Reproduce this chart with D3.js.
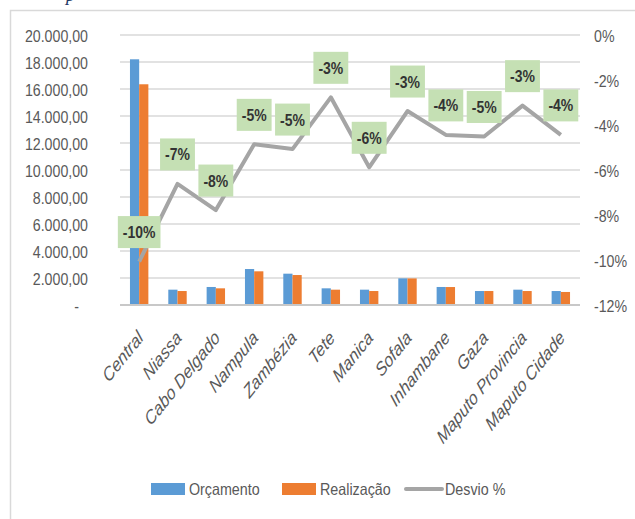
<!DOCTYPE html>
<html>
<head>
<meta charset="utf-8">
<script src="https://cdn.jsdelivr.net/npm/d3@7"></script>
<style>
  html, body { margin: 0; padding: 0; background: #fff; }
  svg { display: block; }
  text { font-family: "Liberation Sans", Arial, sans-serif; }
</style>
</head>
<body>
<svg id="chart" width="635" height="519"></svg>
<script>
// Budget vs. execution by province, with deviation percentage
const categories = ["Central", "Niassa", "Cabo Delgado", "Nampula", "Zambézia", "Tete",
  "Manica", "Sofala", "Inhambane", "Gaza", "Maputo Provincia", "Maputo Cidade"];
const orcamento  = [18200, 1135, 1335, 2665, 2320, 1235, 1135, 1975, 1335, 1035, 1135, 1035];
const realizacao = [16350, 1035, 1235, 2495, 2220, 1135, 1035, 1970, 1330, 1035, 1035, 965];
const desvio = [-0.1007, -0.0662, -0.0778, -0.0486, -0.0507, -0.0277, -0.0588, -0.0338,
  -0.0444, -0.0451, -0.0314, -0.0444];
const seriesNames = ["Orçamento", "Realização", "Desvio %"];
const leftTicks = [0, 2000, 4000, 6000, 8000, 10000, 12000, 14000, 16000, 18000, 20000];
const rightTicks = [0, -0.02, -0.04, -0.06, -0.08, -0.10, -0.12];

const colors = { orc: "#5B9BD5", real: "#ED7D31", line: "#A5A5A5", grid: "#D9D9D9",
  text: "#595959", labelBox: "#C5E0B4", labelText: "#333333" };

// text is drawn slightly tall and narrow
const K = 1.18;

const locale = d3.formatLocale({ decimal: ",", thousands: ".", grouping: [3], currency: ["", ""], minus: "-" });
const fmtNum = locale.format(",.2f");
const fmtPct = locale.format(".0%");

const svg = d3.select("#chart");
const plot = { left: 120, right: 580, top: 35, bottom: 305 };

// frame of the chart area
svg.append("rect")
  .attr("x", 10.5).attr("y", 10.5).attr("width", 700).attr("height", 700)
  .attr("fill", "none").attr("stroke", "#D9D9D9").attr("stroke-width", 1.5);

// fragment of the caption line above the frame
svg.append("text").attr("x", 66).attr("y", 0.5)
  .style("font-family", "Liberation Serif, serif").style("font-style", "italic")
  .attr("font-size", 18).attr("fill", "#1F3864").text("p");

const x0 = d3.scaleBand().domain(categories).range([plot.left, plot.right])
  .paddingInner(0.52).paddingOuter(0.26);
const x1 = d3.scaleBand().domain(["orc", "real"]).range([0, x0.bandwidth()]);
const yL = d3.scaleLinear().domain([0, 20000]).range([plot.bottom, plot.top]);
const yR = d3.scaleLinear().domain([-0.12, 0]).range([plot.bottom, plot.top]);
const cx = c => x0(c) + x0.bandwidth() / 2;

// gridlines
svg.append("g").selectAll("line").data(leftTicks.filter(d => d > 0)).join("line")
  .attr("x1", plot.left).attr("x2", plot.right)
  .attr("y1", d => yL(d)).attr("y2", d => yL(d))
  .attr("stroke", colors.grid).attr("stroke-width", 1.5);

// left axis
const leftAxis = svg.append("g").attr("transform", `translate(${plot.left - 32},0)`)
  .call(d3.axisLeft(yL).tickValues(leftTicks).tickSize(0).tickPadding(0)
    .tickFormat(d => d === 0 ? "-" : fmtNum(d)));
leftAxis.select(".domain").remove();
leftAxis.selectAll("text").attr("font-size", 14.2).attr("fill", colors.text)
  .style("font-family", null).attr("font-family", null)
  .attr("dx", d => d === 0 ? -9 : 0).attr("dy", "0.36em")
  .attr("transform", `scale(1,${K})`);

// right axis
const rightAxis = svg.append("g").attr("transform", `translate(${plot.right + 14},0)`)
  .call(d3.axisRight(yR).tickValues(rightTicks).tickSize(0).tickPadding(0)
    .tickFormat(d => fmtPct(d)));
rightAxis.select(".domain").remove();
rightAxis.selectAll("text").attr("font-size", 14.2).attr("fill", colors.text)
  .attr("font-family", null).attr("dy", "0.36em")
  .attr("transform", `scale(1,${K})`);

// bars
const groups = svg.append("g").selectAll("g").data(categories).join("g")
  .attr("transform", c => `translate(${x0(c)},0)`);
groups.append("rect")
  .attr("x", x1("orc")).attr("width", x1.bandwidth())
  .attr("y", (c, i) => yL(orcamento[i])).attr("height", (c, i) => yL(0) - yL(orcamento[i]))
  .attr("fill", colors.orc);
groups.append("rect")
  .attr("x", x1("real")).attr("width", x1.bandwidth())
  .attr("y", (c, i) => yL(realizacao[i])).attr("height", (c, i) => yL(0) - yL(realizacao[i]))
  .attr("fill", colors.real);

// category axis baseline
svg.append("line").attr("x1", plot.left).attr("x2", plot.right)
  .attr("y1", yL(0)).attr("y2", yL(0))
  .attr("stroke", "#C8C8C8").attr("stroke-width", 2);

// category labels, slanted
svg.append("g").selectAll("text").data(categories).join("text")
  .attr("transform", c => `translate(${cx(c) + 5},${plot.bottom + 34}) scale(1,1.25) rotate(-45)`)
  .attr("text-anchor", "end")
  .attr("font-size", 15.5).attr("font-style", "italic").attr("fill", colors.text)
  .text(c => c);

// deviation line
const line = d3.line().x((d, i) => cx(categories[i])).y(d => yR(d));
svg.append("path").datum(desvio).attr("d", line)
  .attr("fill", "none").attr("stroke", colors.line).attr("stroke-width", 4)
  .attr("stroke-linejoin", "round");

// data labels for the deviation
const labels = svg.append("g").selectAll("g").data(desvio).join("g")
  .attr("transform", (d, i) => `translate(${cx(categories[i])},${yR(d) - 29.5})`);
labels.append("text")
  .attr("text-anchor", "middle").attr("dy", "0.36em")
  .attr("transform", `scale(1,${K})`)
  .attr("font-size", 14).attr("font-weight", "bold").attr("fill", colors.labelText)
  .text(d => fmtPct(d));
labels.each(function () {
  const g = d3.select(this);
  const w = g.select("text").node().getComputedTextLength() + 10;
  g.insert("rect", "text").attr("x", -w / 2).attr("y", -16).attr("width", w).attr("height", 32)
    .attr("fill", colors.labelBox);
});

// legend
const legend = svg.append("g");
const legendItems = [
  { name: seriesNames[0], x: 151, type: "rect", color: colors.orc },
  { name: seriesNames[1], x: 282, type: "rect", color: colors.real },
  { name: seriesNames[2], x: 406, type: "line", color: colors.line }
];
legendItems.forEach(item => {
  if (item.type === "rect") {
    legend.append("rect").attr("x", item.x).attr("y", 483).attr("width", 34).attr("height", 12)
      .attr("fill", item.color);
  } else {
    legend.append("line").attr("x1", item.x).attr("x2", item.x + 36)
      .attr("y1", 489).attr("y2", 489)
      .attr("stroke", item.color).attr("stroke-width", 4).attr("stroke-linecap", "round");
  }
  legend.append("text")
    .attr("transform", `translate(${item.x + (item.type === "rect" ? 38 : 39)},495) scale(1,${K})`)
    .attr("font-size", 14.3).attr("fill", colors.text).text(item.name);
});
</script>
</body>
</html>
